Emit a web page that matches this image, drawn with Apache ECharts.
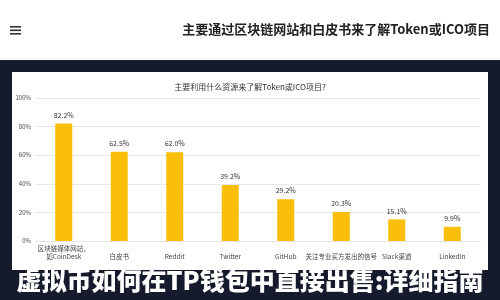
<!DOCTYPE html>
<html>
<head>
    <meta charset="utf-8">
    <title>ECharts</title>
    <script type="text/javascript" src="https://cdn.jsdelivr.net/npm/echarts@6/dist/echarts.min.js"></script>
    <style>
        html, body { margin: 0; padding: 0; background: #161a2d; }
    </style>
</head>
<body>
    <div id="chart" style="width: 500px;height:300px;"></div>
</body>
<script type="text/javascript">
    // 数据
    var categories = ['区块链媒体网站，\n如CoinDesk', '白皮书', 'Reddit', 'Twitter', 'GitHub', '关注专业买方发出的信号', 'Slack渠道', 'LinkedIn'];
    var values = [82.2, 62.5, 62.0, 39.2, 29.2, 20.3, 15.1, 9.9];
    var headerTitle = '主要通过区块链网站和白皮书来了解Token或ICO项目';
    var chartTitle = '主要利用什么资源来了解Token或ICO项目?';
    var overlayText = '虚拟币如何在TP钱包中直接出售:详细指南';

    var font = '"Noto Sans CJK SC", "Noto Sans", sans-serif';
    var chart = echarts.init(document.getElementById("chart"));

    var option = {
        backgroundColor: '#161a2d',
        animation: false,
        title: {
            text: chartTitle,
            left: 'center',
            top: 78,
            textStyle: {
                fontSize: 8,
                fontWeight: 'normal',
                color: '#333',
                fontFamily: font
            }
        },
        grid: {
            left: 36,
            right: 20,
            top: 98,
            bottom: 59,
            containLabel: false
        },
        graphic: [
            // 顶部白色标题栏
            { type: 'rect', z: -10, shape: { x: 0, y: 0, width: 500, height: 60 }, style: { fill: '#ffffff' } },
            { type: 'rect', z: -9, shape: { x: 0, y: 58, width: 500, height: 1 }, style: { fill: '#eeeeee' } },
            { type: 'rect', shape: { x: 10, y: 26, width: 11, height: 1.6 }, style: { fill: '#333' } },
            { type: 'rect', shape: { x: 10, y: 29.5, width: 11, height: 1.6 }, style: { fill: '#333' } },
            { type: 'rect', shape: { x: 10, y: 33, width: 11, height: 1.6 }, style: { fill: '#333' } },
            {
                type: 'text', right: 10, top: 23,
                style: { text: headerTitle, fill: '#222', font: 'bold 13px ' + font }
            },
            // 白色图表面板
            { type: 'rect', z: -10, shape: { x: 12, y: 72, width: 476, height: 198 }, style: { fill: '#ffffff' } },
            // 底部标题
            {
                type: 'text', left: 'center', top: 268, z: 100,
                style: {
                    text: overlayText, fill: '#ffffff',
                    font: '900 25px ' + font,
                    shadowColor: 'rgba(0,0,0,0.6)', shadowBlur: 2
                }
            }
        ],
        xAxis: {
            type: 'category',
            data: categories,
            axisTick: { show: false },
            axisLine: { lineStyle: { color: '#e4e4e4' } },
            axisLabel: {
                interval: 0,
                fontSize: 6.5,
                color: '#444',
                fontFamily: font,
                lineHeight: 8,
                verticalAlign: 'bottom',
                margin: 20
            }
        },
        yAxis: {
            type: 'value',
            min: 0,
            max: 100,
            interval: 20,
            axisLine: { show: false },
            axisTick: { show: false },
            splitLine: { lineStyle: { color: '#e8e8e8' } },
            axisLabel: {
                formatter: '{value}%',
                fontSize: 6,
                color: '#444',
                margin: 5,
                fontFamily: font
            }
        },
        series: [{
            type: 'bar',
            data: values,
            barWidth: 17,
            itemStyle: { color: '#f9bf0b' },
            label: {
                show: true,
                position: 'top',
                distance: 5,
                fontSize: 7,
                color: '#333',
                fontFamily: font,
                formatter: function (p) { return p.value.toFixed(1) + '%'; }
            }
        }]
    };
    chart.setOption(option);
</script>
</html>
